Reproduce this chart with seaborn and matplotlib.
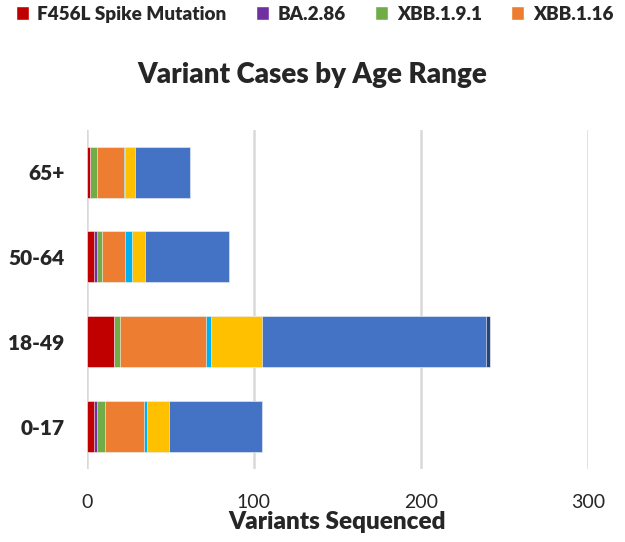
import pandas as pd
import numpy as np
import matplotlib
matplotlib.use('Agg')
import matplotlib.pyplot as plt
import seaborn as sns
from matplotlib.patches import Patch

# data
age_ranges = ['65+', '50-64', '18-49', '0-17']
variants = ['F456L Spike Mutation', 'BA.2.86', 'XBB.1.9.1', 'XBB.1.16',
            'XBB.1.5', 'XBB.2.3', 'Other XBB', 'Other']
colors = ['#C00000', '#7030A0', '#70AD47', '#ED7D31',
          '#00B0F0', '#FFC000', '#4472C4', '#264478']

f456l = [2, 4, 16, 4]
ba286 = [0, 2, 0, 2]
xbb191 = [4, 3, 4, 5]
xbb116 = [16, 14, 51, 23]
xbb15 = [1, 4, 3, 2]
xbb23 = [6, 8, 31, 13]
other_xbb = [33, 50, 134, 56]
other = [0, 0, 2, 0]

counts = pd.DataFrame({
    'F456L Spike Mutation': f456l,
    'BA.2.86': ba286,
    'XBB.1.9.1': xbb191,
    'XBB.1.16': xbb116,
    'XBB.1.5': xbb15,
    'XBB.2.3': xbb23,
    'Other XBB': other_xbb,
    'Other': other,
}, index=age_ranges)
cum = counts.cumsum(axis=1)

sns.set_style('white')
plt.rcParams['font.family'] = ['Lato', 'DejaVu Sans']

fig = plt.figure(figsize=(6.25, 5.42), dpi=100)
ax = fig.add_axes([0.139, 0.134, 0.802, 0.627])

# draw stacked bars back to front
for var, c in zip(variants[::-1], colors[::-1]):
    d = pd.DataFrame({'age': age_ranges, 'val': cum[var].values})
    sns.barplot(data=d, x='val', y='age', color=c, orient='h', width=0.6,
                order=age_ranges, saturation=1, edgecolor='white',
                linewidth=0.4, ax=ax)

ax.set_xlim(0, 300)
ax.set_xticks([0, 100, 200, 300])
ax.grid(axis='x', color='#D9D9D9', linewidth=1.8)
ax.grid(axis='y', visible=False)
ax.set_axisbelow(True)
for s in ax.spines.values():
    s.set_visible(False)
ax.tick_params(axis='both', length=0)
ax.tick_params(axis='x', labelsize=14, pad=18)
ax.tick_params(axis='y', labelsize=15, pad=16)
for lab in ax.get_yticklabels():
    lab.set_fontweight('heavy')
ax.set_ylabel('')
ax.set_xlabel('Variants Sequenced', fontsize=17.5, fontweight='heavy', labelpad=0)

fig.text(0.5, 0.862, 'Variant Cases by Age Range', ha='center', va='center',
         fontsize=20, fontweight='heavy')

handles = [Patch(facecolor=c, label=v) for v, c in zip(variants, colors)]
fig.legend(handles=handles, loc='upper left', bbox_to_anchor=(0.016, 1.0),
           ncol=8, frameon=False, handlelength=0.7, borderaxespad=0.1,
           handleheight=0.7, handletextpad=0.45, columnspacing=1.55,
           borderpad=0.2, prop={'weight': 'heavy', 'size': 13.6})

fig.savefig('out.png', dpi=100)
